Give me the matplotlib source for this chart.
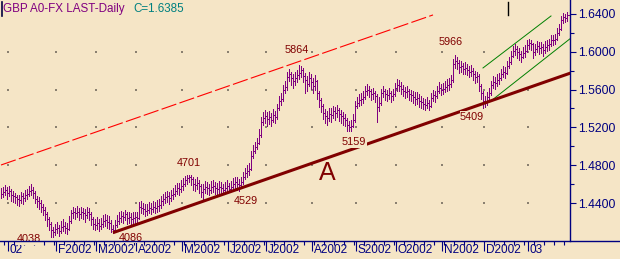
import numpy as np
import matplotlib.pyplot as plt
from matplotlib.lines import Line2D
from matplotlib import transforms

plt.rcParams['font.family'] = ['Liberation Sans', 'DejaVu Sans']

# daily GBP bars, in pips above 1.0000 (4500 -> 1.4500)
close_pips = [
    4500, 4520, 4540, 4510, 4530, 4490, 4470, 4460, 4440, 4430,
    4470, 4450, 4480, 4500, 4530, 4540, 4510, 4440, 4420, 4400,
    4360, 4330, 4280, 4230, 4180, 4110, 4090, 4120, 4140, 4100,
    4150, 4160, 4140, 4130, 4210, 4290, 4300, 4290, 4310, 4280,
    4300, 4290, 4270, 4300, 4280, 4230, 4180, 4170, 4190, 4160,
    4180, 4210, 4220, 4200, 4190, 4130, 4110, 4170, 4210, 4240,
    4260, 4250, 4280, 4240, 4250, 4230, 4240, 4250, 4240, 4360,
    4350, 4340, 4320, 4330, 4350, 4340, 4360, 4350, 4370, 4380,
    4420, 4440, 4460, 4470, 4450, 4480, 4500, 4530, 4560, 4550,
    4580, 4600, 4640, 4660, 4680, 4650, 4600, 4590, 4610, 4580,
    4520, 4550, 4570, 4560, 4540, 4570, 4580, 4560, 4550, 4570,
    4560, 4540, 4560, 4580, 4550, 4570, 4600, 4620, 4600, 4590,
    4620, 4680, 4720, 4740, 4760, 4900, 4950, 4990, 5030, 5120,
    5260, 5300, 5320, 5290, 5310, 5280, 5330, 5310, 5400, 5480,
    5500, 5600, 5630, 5730, 5760, 5720, 5690, 5720, 5750, 5780,
    5810, 5740, 5700, 5660, 5720, 5680, 5640, 5690, 5560, 5490,
    5430, 5350, 5320, 5300, 5340, 5330, 5370, 5350, 5380, 5340,
    5320, 5300, 5280, 5230, 5200, 5220, 5280, 5430, 5460, 5490,
    5500, 5520, 5590, 5600, 5580, 5550, 5560, 5530, 5420, 5460,
    5560, 5580, 5550, 5540, 5560, 5530, 5550, 5620, 5650, 5640,
    5610, 5590, 5570, 5580, 5550, 5540, 5520, 5500, 5510, 5480,
    5470, 5450, 5440, 5460, 5430, 5510, 5540, 5530, 5590, 5620,
    5600, 5610, 5630, 5650, 5660, 5700, 5870, 5900, 5880, 5840,
    5850, 5820, 5830, 5810, 5790, 5800, 5760, 5730, 5740, 5640,
    5560, 5480, 5460, 5520, 5560, 5650, 5680, 5670, 5700, 5720,
    5760, 5790, 5780, 5850, 5890, 5960, 6010, 6030, 6000, 5980,
    5950, 5990, 6010, 6070, 6090, 6080, 6000, 6030, 6060, 6040,
    6050, 6020, 6050, 6070, 6080, 6130, 6120, 6140, 6200, 6240,
    6340, 6370, 6360, 6385,
]
high_pips = [
    4560, 4570, 4590, 4570, 4580, 4550, 4530, 4510, 4490, 4480,
    4520, 4510, 4540, 4550, 4580, 4600, 4570, 4530, 4470, 4460,
    4430, 4390, 4360, 4300, 4250, 4200, 4150, 4180, 4200, 4170,
    4210, 4230, 4200, 4190, 4260, 4330, 4360, 4350, 4370, 4350,
    4360, 4350, 4340, 4360, 4350, 4300, 4250, 4230, 4250, 4230,
    4240, 4270, 4280, 4270, 4260, 4220, 4170, 4220, 4270, 4300,
    4320, 4310, 4330, 4300, 4300, 4290, 4300, 4310, 4300, 4410,
    4420, 4400, 4390, 4390, 4410, 4400, 4420, 4410, 4430, 4440,
    4470, 4500, 4520, 4530, 4520, 4540, 4560, 4590, 4610, 4610,
    4640, 4660, 4690, 4701, 4700, 4700, 4670, 4650, 4670, 4640,
    4600, 4600, 4630, 4620, 4600, 4630, 4640, 4620, 4610, 4630,
    4620, 4600, 4620, 4640, 4610, 4630, 4660, 4680, 4670, 4650,
    4680, 4730, 4770, 4800, 4820, 4950, 5010, 5050, 5090, 5180,
    5310, 5360, 5380, 5360, 5370, 5350, 5390, 5370, 5450, 5530,
    5560, 5650, 5690, 5790, 5820, 5790, 5760, 5790, 5810, 5864,
    5850, 5830, 5780, 5740, 5790, 5760, 5720, 5750, 5700, 5580,
    5510, 5450, 5390, 5370, 5400, 5400, 5430, 5420, 5440, 5410,
    5380, 5360, 5340, 5300, 5270, 5280, 5340, 5480, 5520, 5550,
    5560, 5580, 5640, 5660, 5640, 5610, 5620, 5590, 5550, 5520,
    5610, 5640, 5610, 5600, 5620, 5590, 5610, 5670, 5710, 5700,
    5680, 5650, 5630, 5640, 5610, 5600, 5580, 5570, 5570, 5550,
    5530, 5510, 5500, 5520, 5490, 5560, 5600, 5590, 5640, 5680,
    5660, 5670, 5690, 5710, 5720, 5750, 5920, 5966, 5940, 5910,
    5900, 5880, 5890, 5870, 5850, 5860, 5830, 5800, 5790, 5760,
    5660, 5580, 5530, 5570, 5620, 5690, 5740, 5730, 5760, 5780,
    5820, 5850, 5840, 5900, 5940, 6010, 6060, 6080, 6060, 6040,
    6010, 6050, 6070, 6120, 6140, 6130, 6090, 6080, 6110, 6100,
    6100, 6080, 6110, 6120, 6140, 6180, 6180, 6190, 6250, 6290,
    6380, 6410, 6400, 6420,
]
low_pips = [
    4450, 4460, 4480, 4440, 4470, 4420, 4410, 4400, 4380, 4370,
    4400, 4390, 4420, 4440, 4470, 4490, 4450, 4400, 4360, 4340,
    4300, 4270, 4220, 4160, 4110, 4038, 4040, 4060, 4080, 4050,
    4080, 4100, 4080, 4070, 4110, 4190, 4240, 4230, 4250, 4220,
    4240, 4230, 4200, 4240, 4220, 4170, 4120, 4110, 4130, 4100,
    4120, 4150, 4160, 4140, 4120, 4090, 4086, 4100, 4150, 4180,
    4200, 4190, 4220, 4180, 4190, 4170, 4180, 4190, 4180, 4230,
    4290, 4280, 4260, 4270, 4290, 4280, 4300, 4290, 4310, 4320,
    4350, 4380, 4400, 4410, 4390, 4420, 4440, 4470, 4500, 4490,
    4520, 4540, 4580, 4600, 4620, 4590, 4540, 4530, 4550, 4510,
    4460, 4430, 4510, 4500, 4480, 4510, 4520, 4500, 4490, 4510,
    4500, 4495, 4505, 4520, 4515, 4530, 4529, 4560, 4540, 4530,
    4570, 4600, 4650, 4680, 4700, 4750, 4880, 4930, 4970, 5020,
    5100, 5230, 5250, 5220, 5240, 5210, 5260, 5250, 5290, 5380,
    5440, 5480, 5560, 5600, 5690, 5650, 5620, 5650, 5680, 5710,
    5730, 5680, 5560, 5590, 5640, 5610, 5560, 5600, 5500, 5420,
    5360, 5290, 5250, 5230, 5270, 5260, 5300, 5280, 5310, 5270,
    5250, 5230, 5210, 5159, 5160, 5165, 5200, 5260, 5400, 5430,
    5440, 5460, 5500, 5540, 5520, 5490, 5500, 5470, 5260, 5370,
    5440, 5520, 5490, 5480, 5500, 5470, 5490, 5530, 5590, 5580,
    5550, 5530, 5510, 5520, 5490, 5480, 5460, 5440, 5450, 5420,
    5410, 5390, 5380, 5400, 5380, 5420, 5480, 5470, 5510, 5560,
    5540, 5550, 5570, 5590, 5600, 5630, 5680, 5830, 5820, 5780,
    5790, 5760, 5770, 5750, 5730, 5740, 5700, 5670, 5680, 5590,
    5500, 5409, 5420, 5440, 5490, 5540, 5620, 5610, 5640, 5660,
    5700, 5730, 5720, 5760, 5830, 5870, 5940, 5970, 5930, 5910,
    5890, 5930, 5950, 6000, 6030, 6020, 5930, 5970, 6000, 5980,
    5990, 5960, 5990, 6010, 6020, 6060, 6070, 6080, 6130, 6180,
    6230, 6300, 6310, 6330,
]

# first bar of each month and its label
month_starts = [4, 28, 48, 68, 91, 114, 133, 156, 178, 198, 221, 242, 264]
month_labels = ["02", "F2002", "M2002", "A2002", "M2002", "J2002", "J2002",
                "A2002", "S2002", "O2002", "N2002", "D2002", "03"]
price_ticks = [1.44, 1.48, 1.52, 1.56, 1.60, 1.64]
grid_levels = [1.44, 1.48, 1.52, 1.56, 1.60]

# marked pivots (bar index, pips) and where their numbers sit (pixels)
pivot_idx = [25, 56, 93, 116, 149, 173, 227, 241]
pivot_pips = [4038, 4086, 4701, 4529, 5864, 5159, 5966, 5409]
pivot_offsets = [(-22, -2), (18, -5), (2, 12), (13, -10),
                 (-2, 15), (7, -11), (-4, 13), (-11, -9)]

# drawn lines: (bar index, price) end points
trend_pts = [(56, 1.4086), (116, 1.4529)]
red_pts = [(0, 1.4802), (216, 1.6390)]
green_up_pts = [(241, 1.5829), (275, 1.6379)]
green_lo_pts = [(245, 1.5480), (285, 1.6146)]

bg = '#f5e5c6'
navy = '#000080'
purple = '#800080'
maroon = '#800000'

W, H = 620, 259
fig = plt.figure(figsize=(W / 100, H / 100), dpi=100, facecolor=bg)
ax = fig.add_axes([0, 18 / H, 570 / W, 241 / H], facecolor=bg)

idx = np.arange(len(close_pips))
closes = 1 + np.array(close_pips) / 10000
highs = 1 + np.array(high_pips) / 10000
lows = 1 + np.array(low_pips) / 10000

ax.set_xlim(-0.5, 284.5)
ax.set_ylim(1.3998, 1.6548)

# dotted grid: just points where month ticks meet the price levels
gx, gy = np.meshgrid(np.array(month_starts) - 0.5, grid_levels)
ax.scatter(gx.ravel(), gy.ravel(), s=0.6, marker='s', color='#8a8070',
           linewidths=0, zorder=1)

# HLC bars, crisp 1px strokes like the original screen capture
ax.vlines(idx, lows, highs, color=purple, lw=0.55, antialiased=False,
          zorder=3)
ax.hlines(closes, idx, idx + 1, color=purple, lw=0.55, antialiased=False,
          zorder=3)

# main support line
(x0, y0), (x1, y1) = trend_pts
slope = (y1 - y0) / (x1 - x0)
tx = np.array([x0, 285])
ax.plot(tx, y0 + slope * (tx - x0), color=maroon, lw=2.2,
        solid_capstyle='butt', zorder=4)

# parallel dashed line above
(rx0, ry0), (rx1, ry1) = red_pts
ax.plot([rx0, rx1], [ry0, ry1], color='#ff0000', lw=0.8,
        dashes=(14, 3), zorder=2)

# short-term channel
for pts in (green_up_pts, green_lo_pts):
    ax.plot([p[0] for p in pts], [p[1] for p in pts], color='#008000',
            lw=0.7, zorder=2)

for i, v, (dx, dy) in zip(pivot_idx, pivot_pips, pivot_offsets):
    ax.annotate(str(v), (i, 1 + v / 10000), xytext=(dx, dy),
                textcoords='offset pixels', ha='center', va='center',
                fontsize=7.8, color=maroon, zorder=6,
                bbox=dict(facecolor=bg, edgecolor='none', pad=0.3))

ax.text(163, 1.4718, "A", fontsize=18, color=maroon, ha='center',
        va='center', zorder=6)

# cursor marks at the top
ax.plot([253.5, 253.5], [1.6389, 1.6527], color='black', lw=1.0, zorder=6)
fig.add_artist(Line2D([1.5 / W, 1.5 / W], [1 - 2 / H, 1 - 16 / H],
                      color='#000040', lw=1.2))

# axes styling
for s in ('top', 'left', 'bottom'):
    ax.spines[s].set_visible(False)
ax.spines['right'].set_color(navy)
ax.spines['right'].set_linewidth(1.0)
fig.add_artist(Line2D([0, 1], [18 / H, 18 / H], color=navy, lw=1.0))

ax.yaxis.tick_right()
ax.set_yticks(price_ticks)
ax.set_yticklabels([f"{p:.4f}" for p in price_ticks])
ax.set_yticks(np.array(price_ticks[:-1]) + 0.02, minor=True)
ax.tick_params(axis='y', which='major', length=4, width=0.8, colors=navy,
               labelsize=8.7, pad=1.5)
ax.tick_params(axis='y', which='minor', length=3, width=0.8, colors=navy)

ax.set_xticks(np.array(month_starts) - 0.5)
ax.set_xticklabels([])
ax.set_xticks(np.arange(1.5, 285, 5), minor=True)
ax.tick_params(axis='x', which='major', length=7.5, width=0.8, colors=navy)
ax.tick_params(axis='x', which='minor', length=3, width=0.8, colors=navy)

lab_tr = transforms.blended_transform_factory(ax.transData, ax.transAxes) + \
    transforms.ScaledTranslation(2 / 100, -9 / 100, fig.dpi_scale_trans)
for m, lab in zip(month_starts, month_labels):
    ax.text(m - 0.5, 0, lab, transform=lab_tr, ha='left', va='center',
            fontsize=8.5, color=navy, clip_on=False)

fig.text(3 / W, 1 - 9 / H, "GBP A0-FX LAST-Daily", color=purple,
         fontsize=8.4, ha='left', va='center')
fig.text(133 / W, 1 - 9 / H, "C=1.6385", color='#008080',
         fontsize=8.4, ha='left', va='center')

fig.savefig('out.png', dpi=100, facecolor=bg)
